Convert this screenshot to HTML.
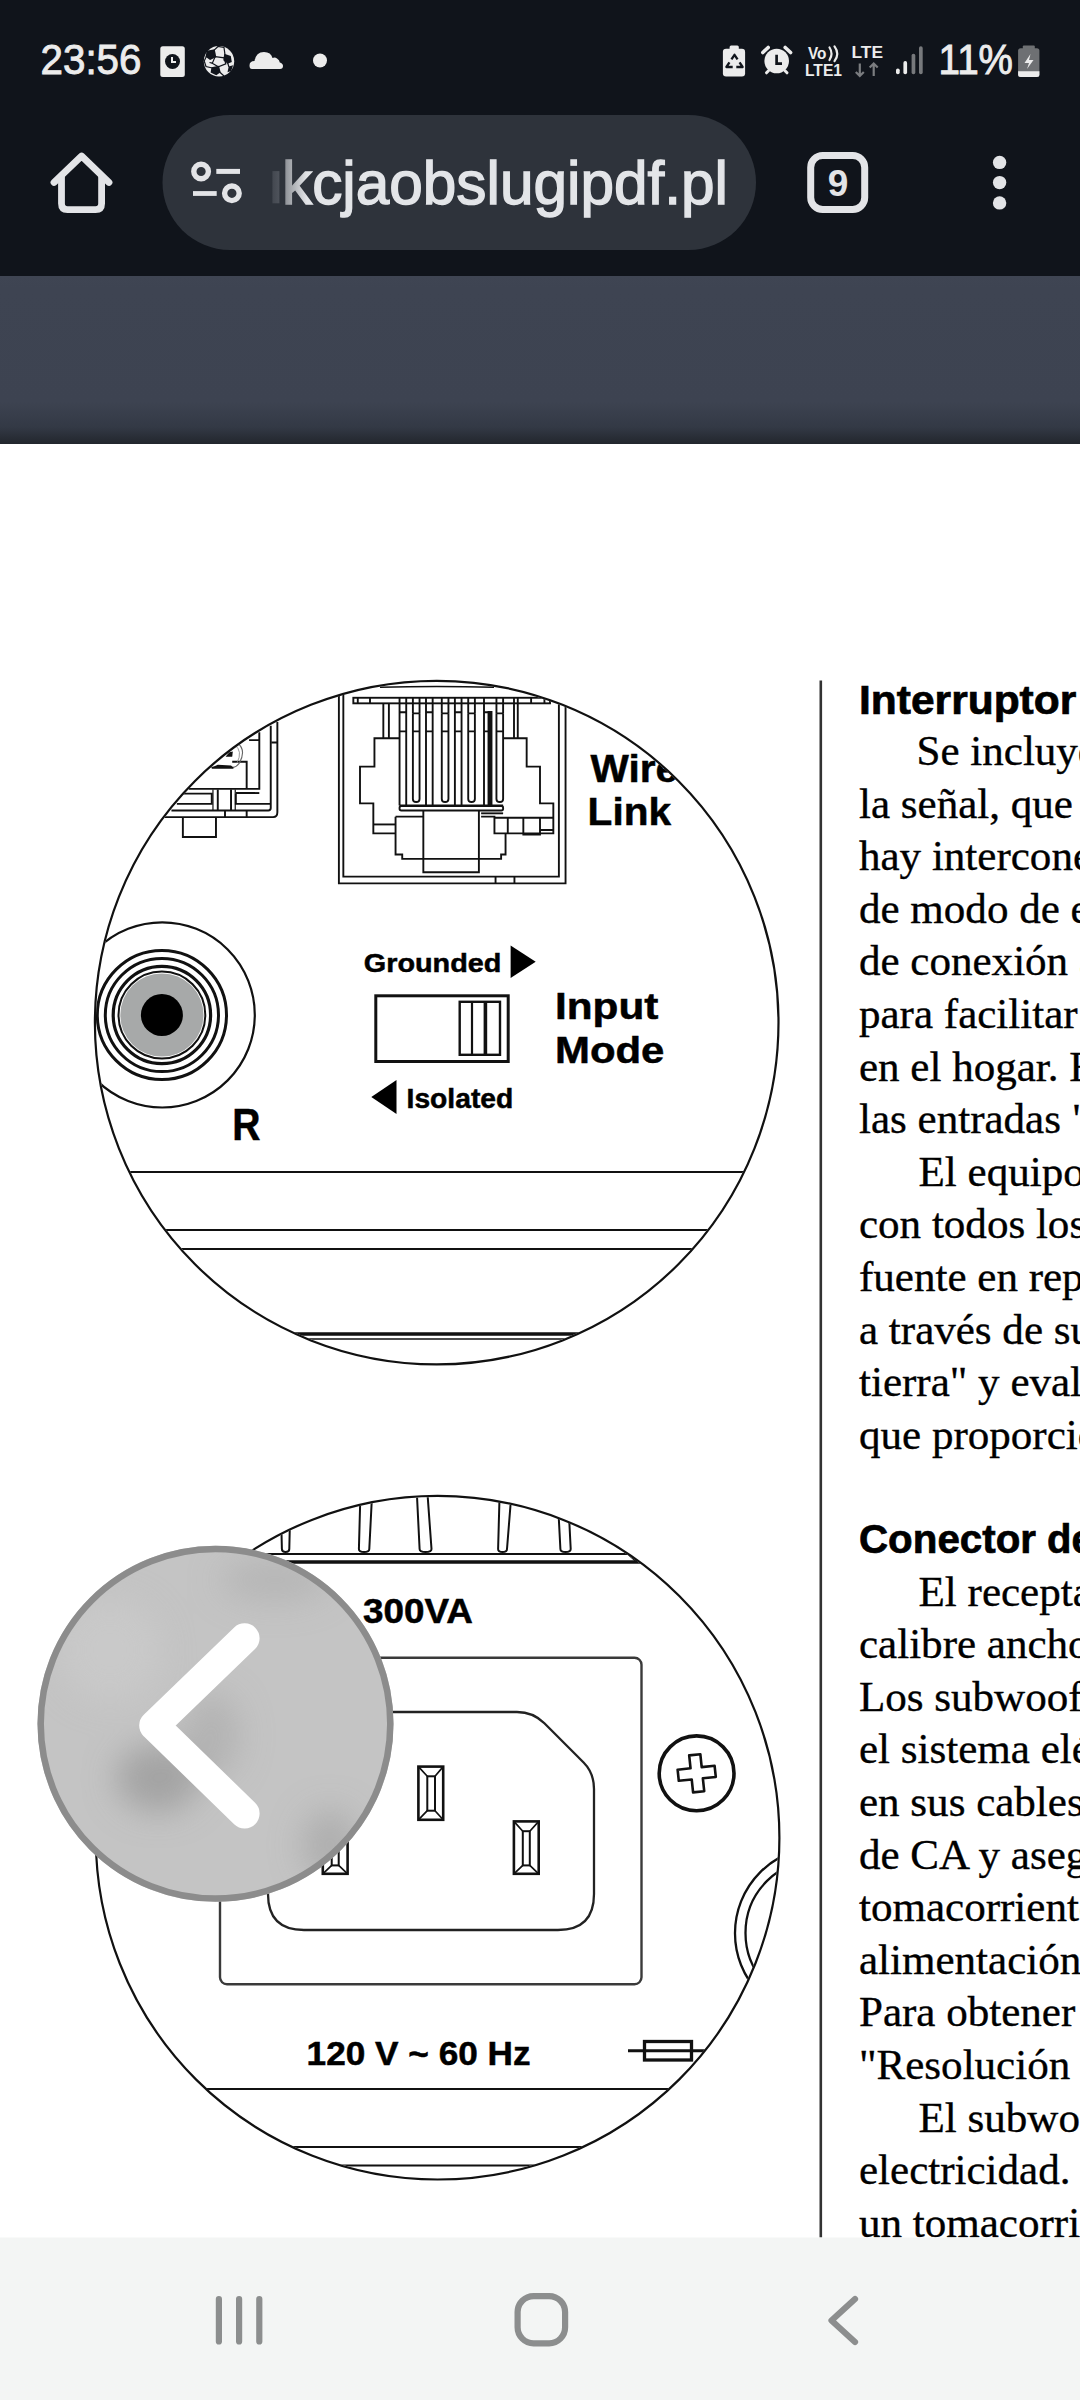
<!DOCTYPE html>
<html><head><meta charset="utf-8">
<style>
html,body{margin:0;padding:0;}
body{width:1080px;height:2400px;overflow:hidden;background:#fff;position:relative;font-family:"Liberation Sans",sans-serif;}
svg{position:absolute;left:0;top:0;display:block;}
</style></head>
<body>
<svg width="1080" height="2400" viewBox="0 0 1080 2400">
<defs>
  <linearGradient id="band" x1="0" y1="0" x2="0" y2="1">
    <stop offset="0" stop-color="#3f4553"/>
    <stop offset="0.08" stop-color="#3e4452"/>
    <stop offset="0.75" stop-color="#3d4351"/>
    <stop offset="0.9" stop-color="#333945"/>
    <stop offset="1" stop-color="#22262d"/>
  </linearGradient>
  <linearGradient id="urlfade" x1="0" y1="0" x2="1" y2="0">
    <stop offset="0" stop-color="#2e333b" stop-opacity="0.95"/>
    <stop offset="1" stop-color="#2e333b" stop-opacity="0"/>
  </linearGradient>
</defs>
<!-- chrome background -->
<rect x="0" y="0" width="1080" height="276" fill="#10141b"/>
<rect x="0" y="276" width="1080" height="168" fill="url(#band)"/>

<!-- STATUS BAR -->
<g id="status" fill="#ececec">
  <text x="40.5" y="74" font-size="43" textLength="101" lengthAdjust="spacingAndGlyphs" stroke="#ececec" stroke-width="0.9">23:56</text>
  <!-- clock card -->
  <rect x="160.3" y="46.3" width="24.5" height="30.6" rx="2.5"/>
  <circle cx="172.5" cy="61.5" r="7.5" fill="#10141b"/>
  <path d="M172 57 V62 H176" stroke="#ececec" stroke-width="2" fill="none"/>
  <!-- soccer -->
  <circle cx="219" cy="61.3" r="15.2"/>
  <g fill="#10141b">
    <polygon points="206.7,50.8 214.7,49.3 216.3,57.1 210.1,59.9 205.5,56.7"/>
    <polygon points="224.3,53.7 230.8,56.1 231.8,62.1 227.6,63.7 223.3,60.2"/>
    <polygon points="211.5,67.3 219.0,65.8 220.6,72.3 216.3,75.3 210.6,72.6"/>
    <polygon points="228.7,66.6 233.1,65.3 231.2,70.9 227.5,72.2"/>
  </g>
  <g stroke="#10141b" stroke-width="1.2" fill="none">
    <polygon points="215.2,56.6 224.2,57.8 225.8,63.8 218.3,66.8 212.3,63.2"/>
    <path d="M213.9,50.4 L218,46.5 L224,47.5 L225,54.8 M206.5,56.3 L204.2,61 L206,66.5 L212.3,68 M219.6,72 L224,76 M227.6,62.8 L229,67 M212.3,63.2 L209.5,62.5 M224.2,57.8 L225,54.8 M218.3,66.8 L218.3,66.8"/>
  </g>
  <!-- cloud -->
  <path d="M252 69 Q249.5 69 249.5 65.5 Q249.5 61 254.5 61 Q256 52 264 52 Q271 52 272.5 58 Q275 57 277 58.5 Q279.5 60 279.8 62.5 Q283 63.5 283 66 Q283 69 280 69 Z"/>
  <circle cx="320" cy="60.5" r="7"/>
  <!-- battery recycle -->
  <rect x="729.6" y="45.5" width="9.2" height="5" rx="1.5"/>
  <rect x="722.9" y="48.8" width="22.2" height="27.6" rx="3.2"/>
  <g stroke="#10141b" stroke-width="2.3" fill="none" stroke-linecap="butt" stroke-linejoin="round">
    <path d="M731.45,59.4 L734.5,54.8 L737.55,59.4"/>
    <path d="M739.55,62.4 L742.6,67 L736.3,67"/>
    <path d="M732.7,67 L726.4,67 L729.45,62.4"/>
  </g>
  <!-- alarm -->
  <circle cx="776.7" cy="61" r="12.3"/>
  <path d="M762.8,52.5 L768.2,47.5 M790.6,52.5 L785.2,47.5" stroke="#ececec" stroke-width="3.6" fill="none" stroke-linecap="round"/>
  <path d="M766.5,72.8 L768.5,70.8 M787,72.8 L785,70.8" stroke="#ececec" stroke-width="3" stroke-linecap="round"/>
  <path d="M776.6,54.8 V63.6 H782" stroke="#10141b" stroke-width="2.7" fill="none"/>
  <!-- VoLTE -->
  <text x="808" y="58.6" font-size="16.5" font-weight="bold" textLength="18.5" lengthAdjust="spacingAndGlyphs">Vo</text>
  <path d="M829.5,47.5 Q833.5,53.7 829.5,60 M834.5,46.3 Q840,53.7 834.5,61.2" stroke="#ececec" stroke-width="2.2" fill="none" stroke-linecap="round"/>
  <text x="805" y="75.5" font-size="16.5" font-weight="bold" textLength="37" lengthAdjust="spacingAndGlyphs">LTE1</text>
  <text x="851.5" y="58.4" font-size="16.5" font-weight="bold" textLength="31.5" lengthAdjust="spacingAndGlyphs">LTE</text>
  <path d="M859.8 63.5 V76 M855.8 72 L859.8 76 L863.8 72 M873.7 76 V63.5 M869.7 67.5 L873.7 63.5 L877.7 67.5" stroke="#7b7d80" stroke-width="2.2" fill="none"/>
  <!-- signal -->
  <rect x="896" y="68.5" width="3.7" height="5.8" rx="1.8"/>
  <rect x="903.4" y="61.1" width="3.7" height="13.2" rx="1.8"/>
  <rect x="911.6" y="53.7" width="3.7" height="20.6" rx="1.8" fill="#77797c"/>
  <rect x="919" y="46.3" width="3.7" height="28" rx="1.8" fill="#77797c"/>
  <text x="938.5" y="74.3" font-size="42" textLength="74.5" lengthAdjust="spacingAndGlyphs" stroke="#ececec" stroke-width="0.9">11%</text>
  <!-- battery -->
  <rect x="1022.8" y="45.4" width="12" height="4" rx="1" fill="#6e7073"/>
  <rect x="1018.1" y="48.2" width="21.3" height="28.7" rx="2.5" fill="#6e7073"/>
  <path d="M1018.1 71.3 H1039.4 V74.4 Q1039.4 76.9 1036.9 76.9 H1020.6 Q1018.1 76.9 1018.1 74.4 Z"/>
  <path d="M1030.5 54 L1024.5 63 H1029 L1027 69 L1033.5 60 H1029 Z"/>
</g>

<!-- TOOLBAR -->
<g id="toolbar">
  <path d="M54 182.5 L81.6 156 L109 182.5" stroke="#e3e4e7" stroke-width="6.8" fill="none" stroke-linecap="round" stroke-linejoin="round"/>
  <path d="M61.5 176 V203.5 Q61.5 209.6 67.5 209.6 H95.6 Q101.6 209.6 101.6 203.5 V176" stroke="#e3e4e7" stroke-width="6.8" fill="none"/>
  <rect x="162.5" y="115" width="593.5" height="135" rx="67.5" fill="#2e333b"/>
  <circle cx="201.1" cy="171.5" r="7.3" fill="none" stroke="#e3e4e7" stroke-width="5.4"/>
  <rect x="216.3" y="168.9" width="23.7" height="5" fill="#e3e4e7"/>
  <circle cx="231.9" cy="193.3" r="7.3" fill="none" stroke="#e3e4e7" stroke-width="5.4"/>
  <rect x="193" y="191.1" width="23.7" height="4.8" fill="#e3e4e7"/>
  <rect x="272.4" y="171.1" width="7" height="32.2" fill="#7c8088"/>
  <text x="282" y="203.7" font-size="61" fill="#e3e5e8" stroke="#e3e5e8" stroke-width="1.4" textLength="446" lengthAdjust="spacingAndGlyphs">kcjaobslugipdf.pl</text>
  <rect x="262" y="140" width="45" height="80" fill="url(#urlfade)"/>
  <rect x="810.7" y="155.5" width="54" height="54" rx="12" fill="none" stroke="#e3e4e7" stroke-width="7"/>
  <text x="838" y="196" font-size="37" font-weight="bold" fill="#e3e4e7" text-anchor="middle">9</text>
  <circle cx="999.6" cy="162.4" r="6.7" fill="#e3e4e7"/>
  <circle cx="999.6" cy="182.6" r="6.7" fill="#e3e4e7"/>
  <circle cx="999.6" cy="202.9" r="6.7" fill="#e3e4e7"/>
</g>

<!-- PAGE CONTENT -->
<g id="page">
<defs>
  <clipPath id="c1"><circle cx="436.7" cy="1022.6" r="340.8"/></clipPath>
  <clipPath id="c2"><circle cx="437.6" cy="1837.7" r="340.8"/></clipPath>
  <clipPath id="bclip"><circle cx="215.5" cy="1723.8" r="175"/></clipPath>
  <filter id="blur14" x="-50%" y="-50%" width="200%" height="200%"><feGaussianBlur stdDeviation="16"/></filter>
</defs>
<!-- ===== CIRCLE 1 ===== -->
<g clip-path="url(#c1)" stroke="#111" fill="none" stroke-width="2.4">
  <!-- top-left connector -->
  <g transform="translate(160 710) scale(0.120370)" stroke-width="16">
    <path d="M40,890 H940 Q975,890 975,850 V100"/>
    <path d="M95,835 H900 Q920,835 920,815 V130"/>
    <path d="M240,655 H825 V185"/>
    <path d="M630,690 H825"/>
    <path d="M600,430 H720 V650"/>
    <path d="M430,480 H610"/>
    <path d="M740,250 H825"/>
    <path d="M925,270 H975"/>
    <path d="M140,695 H430 V780 H140"/>
    <path d="M630,695 V780 H920"/>
    <path d="M480,660 V835 M590,660 V835"/>
    <path d="M440,660 V835 M625,660 V835" stroke-width="10"/>
    <path d="M540,835 V890 M720,835 V890"/>
    <path d="M190,890 V1055 H465 V890"/>
    <path d="M640,270 Q720,330 660,440 Q640,470 600,480" stroke-width="9" stroke="#666"/>
    <path d="M620,290 Q690,340 640,440" stroke-width="7" stroke="#888"/>
    <polygon points="420,482 612,482 590,462 480,455" fill="#111" stroke="none"/>
    <polygon points="545,388 600,388 605,345 575,350" fill="#111" stroke="none"/>
  </g>
  <!-- RJ45 -->
  <g transform="translate(330 680) scale(0.222222)" stroke-width="8.5">
    <path d="M40,60 V915 H1060 V60"/>
    <path d="M60,60 V885 H1030 V60"/>
    <path d="M745,885 V915 M830,885 V915"/>
    <path d="M225,33 Q480,25 738,33" stroke-width="7"/>
    <rect x="105" y="80" width="885" height="25"/>
    <path d="M125,80 V105 M180,80 V105 M905,80 V105 M965,80 V105"/>
    <path d="M240,105 V262 M265,105 V262 M828,80 V262 M845,80 V262"/>
    <path d="M313,80 V565 M343,80 V565 M432,80 V565 M462,80 V565 M562,80 V565 M592,80 V565 M693,80 V565"/>
    <path d="M373,80 V150 M403,80 V150 M503,80 V150 M533,80 V150 M622,80 V150 M652,80 V150 M749,80 V150 M779,80 V150"/>
    <path d="M373,150 H403 M503,150 H533 M622,150 H652 M749,150 H779"/>
    <path d="M373,150 V535 Q373,549 388,549 Q403,549 403,535 V150"/>
    <path d="M503,150 V535 Q503,549 518,549 Q533,549 533,535 V150"/>
    <path d="M622,150 V535 Q622,549 637,549 Q652,549 652,535 V150"/>
    <path d="M749,150 V535 Q749,549 764,549 Q779,549 779,535 V150"/>
    <path d="M313,145 H343 M432,145 H462 M562,145 H592 M693,145 H720"/>
    <path d="M313,231 H343 M432,231 H462 M562,231 H592 M693,231 H720 M373,231 H403 M503,231 H533 M622,231 H652 M749,231 H779"/>
    <path d="M720,140 V565" stroke-width="22"/>
    <path d="M313,565 H779"/>
    <rect x="313" y="567" width="466" height="20" rx="8"/>
    <path d="M313,262 H200 V390 H135 V555 H195 V690 H295"/>
    <path d="M779,262 H885 V390 H945 V555 H1005 V690 H740 V615 H680"/>
    <path d="M195,650 H295"/>
    <path d="M295,615 H420 M295,615 V785 H325 V805 H770 V785 H790 V690"/>
    <path d="M420,590 V865 H670 V590"/>
    <path d="M680,600 H779"/>
    <path d="M740,620 H1005 M800,620 V690 M870,620 V695 H945 V620 M945,675 H1005"/>
  </g>
  <!-- RCA jack -->
  <circle cx="162.2" cy="1014.9" r="92.6" stroke-width="2.2"/>
  <circle cx="161.9" cy="1015" r="41.6" fill="#a7a9a9" stroke="none"/>
  <circle cx="161.9" cy="1015" r="64.6" stroke-width="3"/>
  <circle cx="161.9" cy="1015" r="56.6" stroke-width="3"/>
  <circle cx="161.9" cy="1015" r="48.7" stroke-width="3.2"/>
  <circle cx="161.9" cy="1015" r="43.4" stroke-width="2"/>
  <circle cx="161.9" cy="1015" r="21" fill="#000" stroke="none"/>
  <!-- switch -->
  <rect x="375.8" y="995.8" width="132.4" height="65.7" stroke-width="3"/>
  <rect x="459.7" y="1001.8" width="40.3" height="53" stroke-width="2.4"/>
  <path d="M472 1001.8 V1054.8" stroke-width="2.2"/>
  <path d="M485.4 1001.8 V1054.8" stroke-width="3.6"/>
  <polygon points="510.6,945.4 535.7,961.7 510.6,978" fill="#000" stroke="none"/>
  <polygon points="396.5,1080 371.3,1097 396.5,1114" fill="#000" stroke="none"/>
  <!-- horizontal lines -->
  <path d="M90 1172 H790 M90 1230 H790 M90 1249 H790" stroke-width="2.2"/>
  <path d="M90 1334 H790" stroke-width="3.6"/>
  <path d="M300 1339 H575" stroke-width="1.5"/>
  <!-- texts -->
  <g fill="#000" stroke="#000" stroke-width="0.5" font-weight="bold">
    <text x="590.6" y="781.9" font-size="39" textLength="87.6" lengthAdjust="spacingAndGlyphs">Wire</text>
    <text x="587.6" y="824.8" font-size="39" textLength="83.4" lengthAdjust="spacingAndGlyphs">Link</text>
    <text x="555" y="1018.6" font-size="37" textLength="103.4" lengthAdjust="spacingAndGlyphs">Input</text>
    <text x="555" y="1063" font-size="37" textLength="109.4" lengthAdjust="spacingAndGlyphs">Mode</text>
    <text x="363.8" y="972" font-size="26.5" textLength="137.6" lengthAdjust="spacingAndGlyphs">Grounded</text>
    <text x="406.6" y="1107.6" font-size="27" textLength="106.6" lengthAdjust="spacingAndGlyphs">Isolated</text>
    <text x="232.2" y="1139.8" font-size="44" textLength="28.2" lengthAdjust="spacingAndGlyphs">R</text>
  </g>
</g>
<!-- outer circle 1 -->
<circle cx="436.7" cy="1022.6" r="341.8" fill="none" stroke="#111" stroke-width="2.2"/>
<!-- ===== CIRCLE 2 ===== -->
<g clip-path="url(#c2)" stroke="#111" fill="none" stroke-width="2">
  <!-- fins -->
  <path d="M280.2,1480 L281.9,1549 Q281.9,1552 285.6,1552 Q289.3,1552 289.3,1549 L290.9,1480" stroke-width="2"/>
  <path d="M360.8,1480 L358.9,1549 Q358.9,1552 364.1,1552 Q369.3,1552 369.3,1549 L372.8,1480" stroke-width="2"/>
  <path d="M416.2,1480 L419.6,1549 Q419.6,1552 425.55,1552 Q431.5,1552 431.5,1549 L426.5,1480" stroke-width="2"/>
  <path d="M500,1480 L498.1,1549 Q498.1,1552 502.55,1552 Q507,1552 507,1549 L512.5,1480" stroke-width="2"/>
  <path d="M556.8,1480 L560.4,1549 Q560.4,1552 565.55,1552 Q570.7,1552 570.7,1549 L567.2,1480" stroke-width="2"/>
  <path d="M90,1554 H628 L637,1562" stroke-width="1.8"/>
  <path d="M90,1562 H800" stroke-width="3.6"/>
  <!-- panel -->
  <rect x="220" y="1657.7" width="421.5" height="326.6" rx="7" stroke-width="2.4" stroke="#3a3a3a"/>
  <!-- socket -->
  <path d="M296,1712 H517 Q533.1,1712 544.4,1723.3 L583.6,1762.5 Q594,1772.9 594,1789 V1894 Q594,1930 558,1930 H304 Q268,1930 268,1894 V1740 Q268,1712 296,1712 Z" stroke-width="2.3" stroke="#222"/>
  <!-- pins -->
  <g>
    <rect x="418.4" y="1766.6" width="24.8" height="53.2" stroke-width="2.6"/>
    <rect x="427.3" y="1776.3" width="7.7" height="34.4" stroke-width="2"/>
    <path d="M418.4,1766.6 L427.3,1776.3 M443.2,1766.6 L435,1776.3 M418.4,1819.8 L427.3,1810.7 M443.2,1819.8 L435,1810.7" stroke-width="1.7"/>
    <rect x="513.9" y="1821.4" width="24.8" height="52.4" stroke-width="2.6"/>
    <rect x="522.8" y="1831.2" width="7.0" height="34.2" stroke-width="2"/>
    <path d="M513.9,1821.4 L522.8,1831.2 M538.7,1821.4 L529.8,1831.2 M513.9,1873.8 L522.8,1865.4 M538.7,1873.8 L529.8,1865.4" stroke-width="1.7"/>
    <rect x="322.8" y="1821.4" width="24.8" height="52.4" stroke-width="2.6"/>
    <rect x="331.7" y="1831.2" width="7.0" height="34.2" stroke-width="2"/>
    <path d="M322.8,1821.4 L331.7,1831.2 M347.6,1821.4 L338.7,1831.2 M322.8,1873.8 L331.7,1865.4 M347.6,1873.8 L338.7,1865.4" stroke-width="1.7"/>
  </g>
  <!-- screw -->
  <circle cx="696.6" cy="1773.3" r="37.4" stroke-width="3.6"/>
  <path transform="translate(696.7 1773.3) rotate(-6)" d="M-5.6,-18.6 H5.6 V-5.6 H18.6 V5.6 H5.6 V18.6 H-5.6 V5.6 H-18.6 V-5.6 H-5.6 Z" stroke-width="2.6" stroke-linejoin="round"/>
  <!-- knob arcs -->
  <circle cx="821.4" cy="1933.2" r="86.4" stroke-width="2.3"/>
  <circle cx="819" cy="1932.9" r="73.5" stroke-width="2.3"/>
  <!-- fuse -->
  <rect x="644.5" y="2041.5" width="47" height="18.5" stroke-width="3.3"/>
  <path d="M628,2050.8 H706" stroke-width="3"/>
  <!-- lines -->
  <path d="M90,2089 H800 M90,2147 H800 M90,2165.5 H800" stroke-width="2"/>
  <g fill="#000" stroke="#000" stroke-width="0.5" font-weight="bold">
    <text x="363" y="1622.8" font-size="34.5" textLength="110" lengthAdjust="spacingAndGlyphs">300VA</text>
    <text x="306.6" y="2065" font-size="34" textLength="224" lengthAdjust="spacingAndGlyphs">120 V ~ 60 Hz</text>
  </g>
</g>
<circle cx="437.6" cy="1837.7" r="341.8" fill="none" stroke="#111" stroke-width="2.2"/>

<!-- right column rule -->
<rect x="819.5" y="680.5" width="2.6" height="1557" fill="#333"/>

<g id="text" font-family="Liberation Serif, serif" font-size="42" fill="#000">
<g transform="translate(859 0) scale(1.025 1) translate(-859 0)" stroke="#000" stroke-width="0.35">
  <text x="915.1" y="765.0">Se incluye un interruptor de modo de entrada</text>
  <text x="859" y="817.6">la señal, que permite cambiar el modo</text>
  <text x="859" y="870.2">hay interconexiones que producen ruido</text>
  <text x="859" y="922.8">de modo de entrada en la posición</text>
  <text x="859" y="975.4">de conexión a tierra cuando se</text>
  <text x="859" y="1028.0">para facilitar la conexión con otros</text>
  <text x="859" y="1080.6">en el hogar. El interruptor</text>
  <text x="859" y="1133.2">las entradas "Line In" y "LFE"</text>
  <text x="917.1" y="1185.8">El equipo se ha diseñado para</text>
  <text x="859" y="1238.4">con todos los sistemas de audio</text>
  <text x="859" y="1291.0">fuente en reposo con el interruptor</text>
  <text x="859" y="1343.6">a través de su sistema de audio</text>
  <text x="859" y="1396.2">tierra" y evalúe el resultado</text>
  <text x="859" y="1448.8">que proporcione el mejor</text>
  <text x="917.1" y="1605.6">El receptaculo de alimentación</text>
  <text x="859" y="1658.2">calibre ancho</text>
  <text x="859" y="1710.8">Los subwoofers</text>
  <text x="859" y="1763.4">el sistema eléctrico</text>
  <text x="859" y="1816.0">en sus cables</text>
  <text x="859" y="1868.6">de CA y asegúrese</text>
  <text x="859" y="1921.2">tomacorriente</text>
  <text x="859" y="1973.8">alimentación</text>
  <text x="859" y="2026.4">Para obtener</text>
  <text x="859" y="2079.0">"Resolución de</text>
  <text x="917.1" y="2131.6">El subwoofer</text>
  <text x="859" y="2184.2">electricidad. Use</text>
  <text x="859" y="2236.8">un tomacorriente</text>
</g>
  <text x="859" y="713.8" font-family="Liberation Sans, sans-serif" font-weight="bold" font-size="40" stroke="#000" stroke-width="0.7" textLength="217.3" lengthAdjust="spacingAndGlyphs">Interruptor</text>
  <text x="859" y="1553.3" font-family="Liberation Sans, sans-serif" font-weight="bold" font-size="40" stroke="#000" stroke-width="0.7" textLength="177" lengthAdjust="spacingAndGlyphs">Conector</text>
  <text x="1047" y="1553.3" font-family="Liberation Sans, sans-serif" font-weight="bold" font-size="40" stroke="#000" stroke-width="0.7">de</text>
</g>
<!-- back button overlay -->
<g>
  <circle cx="215.5" cy="1723.8" r="178" fill="#c4c4c4"/>
  <g clip-path="url(#bclip)">
    <g filter="url(#blur14)">
      <ellipse cx="158" cy="1778" rx="42" ry="34" fill="#989898" opacity="0.75"/>
      <ellipse cx="212" cy="1735" rx="28" ry="42" fill="#a8a8a8" opacity="0.6"/>
      <ellipse cx="275" cy="1580" rx="55" ry="22" fill="#ababab" opacity="0.55"/>
      <ellipse cx="330" cy="1845" rx="28" ry="36" fill="#a0a0a0" opacity="0.6"/>
      <ellipse cx="110" cy="1650" rx="50" ry="50" fill="#cacaca" opacity="0.8"/>
    </g>
  </g>
  <circle cx="215.5" cy="1723.8" r="174.8" fill="none" stroke="#8c8c8c" stroke-width="6.5"/>
  <path d="M244.6,1638.3 L154.2,1725.5 L244.6,1813.5" fill="none" stroke="#fff" stroke-width="30" stroke-linecap="round" stroke-linejoin="round"/>
</g>
</g>
<!-- nav bg -->
<rect x="0" y="2237.5" width="1080" height="163" fill="#f3f5f4"/>
<!-- NAV BAR -->
<g id="nav" stroke="#8c8e8e" stroke-width="6.2" fill="none" stroke-linecap="round">
  <path d="M218.9 2299 V2341.5 M239.1 2299 V2341.5 M259.3 2299 V2341.5"/>
  <rect x="517.6" y="2296.1" width="47.5" height="47.2" rx="16"/>
  <path d="M855 2299 L831.5 2320.5 L855 2342" stroke-linejoin="round"/>
</g>

</svg>
</body></html>
